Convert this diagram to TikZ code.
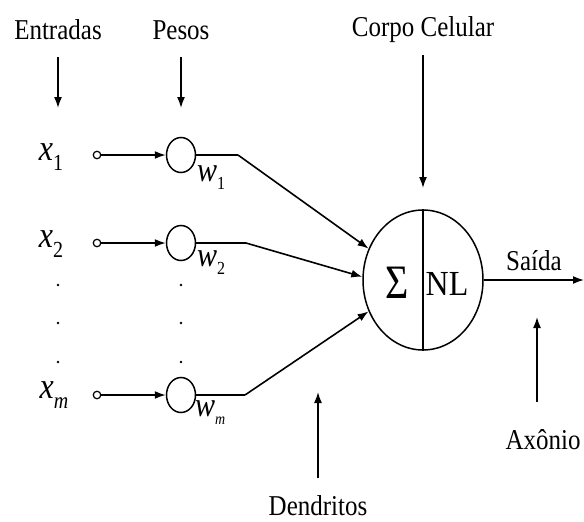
\documentclass[tikz,border=0pt]{standalone}
\usepackage{fontspec}
\setmainfont{Liberation Serif}
\usetikzlibrary{arrows.meta,shapes.geometric}
\newcommand{\vstr}[1]{\scalebox{1}[1.15]{#1}}
\begin{document}
\begin{tikzpicture}[x=1pt,y=-1pt,
  lbl/.style={font=\fontsize{25}{30}\selectfont, inner sep=0pt},
  var/.style={font=\fontsize{32}{34}\selectfont\itshape, inner sep=0pt},
  wlbl/.style={font=\fontsize{30}{32}\selectfont\itshape, inner sep=0pt, anchor=west},
  wt/.style={draw, line width=1.5pt, ellipse, minimum width=29pt, minimum height=35pt, inner sep=0pt},
  inp/.style={draw, line width=1.2pt, circle, minimum size=7.5pt, inner sep=0pt},
  conn/.style={line width=1.6pt},
  arr/.style={line width=1.6pt, -{Latex[length=11pt,width=8pt]}},
  dotp/.style={circle, fill, minimum size=2.8pt, inner sep=0pt}]
\useasboundingbox (0,0) rectangle (584,522);
\fill[white] (0,0) rectangle (584,522);

% top labels
\node[lbl] (ent) at (58,30) {\vstr{Entradas}};
\node[lbl] (pes) at (181,30) {\vstr{Pesos}};
\node[lbl] (corpo) at (423,30) {\vstr{Corpo Celular}};
\coordinate (entT) at (58,108);
\coordinate (pesT) at (181,108);
\coordinate (corpoT) at (423,188);
\draw[arr] (58,57) -- (entT);
\draw[arr] (181,57) -- (pesT);
\draw[arr] (423,55) -- (corpoT);

% inputs
\node[var] (x1) at (51,157) {\vstr{x\raisebox{-8pt}{\upshape\fontsize{20}{20}\selectfont 1}}};
\node[var] (x2) at (51,244) {\vstr{x\raisebox{-8pt}{\upshape\fontsize{20}{20}\selectfont 2}}};
\node[var] (xm) at (54,395) {\vstr{x\raisebox{-8pt}{\fontsize{20}{20}\selectfont m}}};

\node[inp] (i1) at (97,155) {};
\node[inp] (i2) at (97,243) {};
\node[inp] (im) at (97,395) {};

\node[wt] (w1) at (181,155) {};
\node[wt] (w2) at (181,243) {};
\node[wt] (wm) at (181,395) {};

\draw[arr] (i1) -- (w1);
\draw[arr] (i2) -- (w2);
\draw[arr] (im) -- (wm);

\node[wlbl] (lw1) at (197,178) {\vstr{w\raisebox{-7pt}{\upshape\fontsize{16}{16}\selectfont 1}}};
\node[wlbl] (lw2) at (197,263) {\vstr{w\raisebox{-7pt}{\upshape\fontsize{16}{16}\selectfont 2}}};
\node[wlbl] (lwm) at (195,413) {\vstr{w\raisebox{-7pt}{\fontsize{14}{14}\selectfont m}}};

% dots
\foreach \yy [count=\k] in {285,323,362} {
  \node[dotp] (da\k) at (58,\yy) {};
  \node[dotp] (db\k) at (181,\yy) {};
}

% neuron
\node[draw, line width=1.5pt, ellipse, minimum width=120pt, minimum height=140pt, inner sep=0pt] (neu) at (423,280) {};
\draw[line width=1.5pt] (neu.north) -- (neu.south);
\node[lbl, font=\fontsize{40}{44}\selectfont] (sig) at (397,283) {\scalebox{1}[1.2]{Σ}};
\node[lbl, font=\fontsize{32}{34}\selectfont] (nl) at (447,284) {\scalebox{1}[1.1]{NL}};

\coordinate (b1) at (238,155);
\coordinate (b2) at (246,243);
\coordinate (bm) at (245,395);
\draw[conn] (w1.east) -- (b1);
\draw[conn] (w2.east) -- (b2);
\draw[conn] (wm.east) -- (bm);
\draw[arr] (b1) -- (neu.150);
\draw[arr] (b2) -- (neu.177);
\draw[arr] (bm) -- (neu.210);

% output
\coordinate (outT) at (584,280);
\draw[arr] (neu.east) -- (outT);
\node[lbl] (said) at (534,261) {\vstr{Saída}};

% bottom labels
\node[lbl] (axo) at (543,440) {\vstr{Axônio}};
\coordinate (axoT) at (537,317);
\draw[arr] (537,402) -- (axoT);
\node[lbl] (den) at (318,506) {\vstr{Dendritos}};
\coordinate (denT) at (318,392);
\draw[arr] (318,478) -- (denT);
\end{tikzpicture}
\end{document}
